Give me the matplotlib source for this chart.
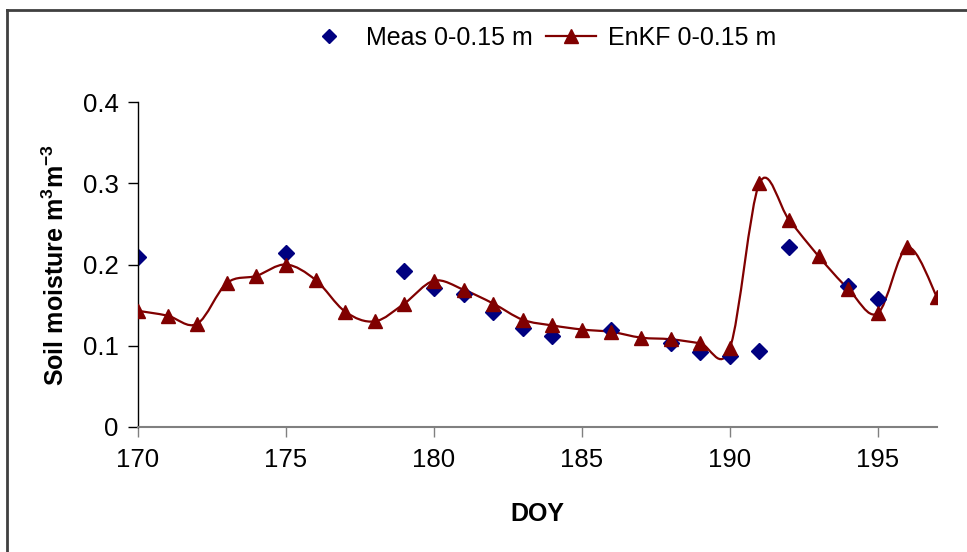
# -*- coding: utf-8 -*-

import numpy as np
import matplotlib
matplotlib.use('Agg')
import matplotlib.pyplot as plt
from matplotlib.path import Path
from matplotlib.patches import PathPatch
from matplotlib.lines import Line2D

plt.rcParams['font.family'] = ['Liberation Sans', 'DejaVu Sans']
plt.rcParams['mathtext.fontset'] = 'custom'
plt.rcParams['mathtext.rm'] = 'Liberation Sans'
plt.rcParams['mathtext.bf'] = 'Liberation Sans:bold'
plt.rcParams['mathtext.default'] = 'bf'

# EnKF estimate (daily) and measurements, 0-0.15 m layer
enkf_doy = [170, 171, 172, 173, 174, 175, 176, 177, 178, 179, 180, 181, 182, 183,
            184, 185, 186, 187, 188, 189, 190, 191, 192, 193, 194, 195, 196, 197]
enkf_sm = [0.143, 0.137, 0.127, 0.177, 0.186, 0.200, 0.181, 0.142, 0.130, 0.152,
           0.180, 0.169, 0.152, 0.132, 0.125, 0.120, 0.117, 0.110, 0.108, 0.103,
           0.097, 0.300, 0.255, 0.210, 0.170, 0.140, 0.221, 0.160]

meas_doy = [170, 175, 179, 180, 181, 182, 183, 184, 186, 188, 189, 190, 191, 192, 194, 195]
meas_sm = [0.209, 0.214, 0.192, 0.171, 0.164, 0.142, 0.122, 0.112, 0.119, 0.103,
           0.092, 0.088, 0.093, 0.221, 0.173, 0.158]

xticks = [170, 175, 180, 185, 190, 195]
yticks = [0, 0.1, 0.2, 0.3, 0.4]
ytick_labels = ['0', '0.1', '0.2', '0.3', '0.4']

red = '#800000'
navy = '#000080'


def smooth_path(x, y):
    """Excel-like smoothed line: Catmull-Rom segments as cubic Beziers."""
    pts = np.column_stack((x, y)).astype(float)
    n = len(pts)
    verts = [pts[0]]
    codes = [Path.MOVETO]
    for i in range(n - 1):
        p0 = pts[i - 1] if i > 0 else pts[i]
        p1 = pts[i]
        p2 = pts[i + 1]
        p3 = pts[i + 2] if i + 2 < n else pts[i + 1]
        c1 = p1 + (p2 - p0) / 6.0
        c2 = p2 - (p3 - p1) / 6.0
        verts += [c1, c2, p2]
        codes += [Path.CURVE4] * 3
    return Path(verts, codes)


fig = plt.figure(figsize=(9.67, 5.52), dpi=100)
ax = fig.add_axes([138 / 967, 1 - 427 / 552, (937 - 138) / 967, (427 - 102) / 552])

ax.add_patch(PathPatch(smooth_path(enkf_doy, enkf_sm), facecolor='none',
                       edgecolor=red, lw=1.6, zorder=2))
ax.plot(enkf_doy, enkf_sm, ls='none', marker='^', ms=10.5, color=red, zorder=3)
ax.plot(meas_doy, meas_sm, ls='none', marker='D', ms=8.5, color=navy, zorder=2.5)

ax.set_xlim(170, 197)
ax.set_ylim(0, 0.4)
ax.set_xticks(xticks)
ax.set_xticklabels([str(t) for t in xticks])
ax.set_yticks(yticks)
ax.set_yticklabels(ytick_labels)
ax.tick_params(axis='both', labelsize=18.5, direction='out', length=7, width=1)
ax.tick_params(axis='x', pad=8, color='#808080')
ax.tick_params(axis='y', pad=7)
for side in ('top', 'right'):
    ax.spines[side].set_visible(False)
ax.spines['bottom'].set_color('#808080')
ax.spines['bottom'].set_linewidth(1.5)
ax.spines['left'].set_linewidth(1)

ax.set_xlabel('DOY', fontsize=18, fontweight='bold', labelpad=22)
ax.set_ylabel(r'Soil moisture m$^{3}$m$^{-3}$', fontsize=18,
              fontweight='bold', labelpad=10)

handles = [Line2D([], [], ls='none', marker='D', ms=7.5, color=navy),
           Line2D([], [], color=red, lw=1.6, marker='^', ms=10.5)]
fig.legend(handles, ['Meas 0-0.15 m', 'EnKF 0-0.15 m'], loc='center',
           bbox_to_anchor=(540 / 967, 1 - 38 / 552), ncol=2, frameon=False,
           fontsize=18, handlelength=2.0, columnspacing=0.5, handletextpad=0.5)

# partial frame of the original chart area (top and left edges)
fig.add_artist(Line2D([6.5 / 967, 6.5 / 967], [0, 1 - 9.5 / 552], color='#404040', lw=2,
                      transform=fig.transFigure))
fig.add_artist(Line2D([6.5 / 967, 1], [1 - 9.5 / 552, 1 - 9.5 / 552], color='#404040', lw=2,
                      transform=fig.transFigure))

fig.savefig('out.png', dpi=100)
